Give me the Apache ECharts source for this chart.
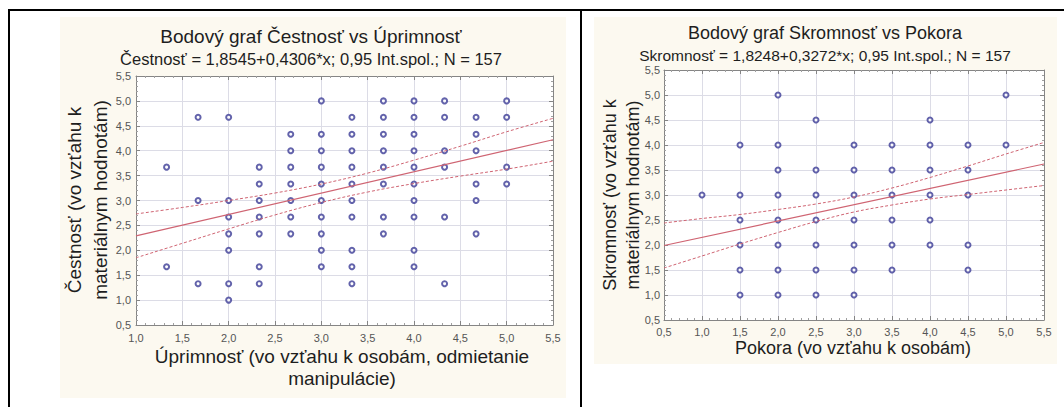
<!DOCTYPE html>
<html><head><meta charset="utf-8">
<script src="https://cdn.jsdelivr.net/npm/echarts@6/dist/echarts.min.js"></script>
<style>html,body{margin:0;padding:0;background:#fff;}#c{width:1064px;height:407px;}</style>
</head><body><div id="c"></div>
<script>
// ---- Left chart: Čestnosť vs Úprimnosť ----
const leftTitle = 'Bodový graf Čestnosť vs Úprimnosť';
const leftSubtitle = 'Čestnosť = 1,8545+0,4306*x; 0,95 Int.spol.; N = 157';
const leftXName = 'Úprimnosť (vo vzťahu k osobám, odmietanie\nmanipulácie)';
const leftYName = 'Čestnosť (vo vzťahu k\nmateriálnym hodnotám)';
const leftPoints = [
  [1.33,3.67],[1.33,1.67],
  [1.67,4.67],[1.67,3.0],[1.67,1.33],
  [2.0,4.67],[2.0,3.0],[2.0,2.67],[2.0,2.33],[2.0,2.0],[2.0,1.33],[2.0,1.0],
  [2.33,3.67],[2.33,3.33],[2.33,3.0],[2.33,2.67],[2.33,2.33],[2.33,1.67],[2.33,1.33],
  [2.67,4.33],[2.67,4.0],[2.67,3.67],[2.67,3.33],[2.67,3.0],[2.67,2.67],[2.67,2.33],
  [3.0,5.0],[3.0,4.33],[3.0,4.0],[3.0,3.67],[3.0,3.33],[3.0,3.0],[3.0,2.67],[3.0,2.33],[3.0,2.0],[3.0,1.67],
  [3.33,4.67],[3.33,4.33],[3.33,4.0],[3.33,3.67],[3.33,3.33],[3.33,3.0],[3.33,2.67],[3.33,2.0],[3.33,1.67],[3.33,1.33],
  [3.67,5.0],[3.67,4.67],[3.67,4.33],[3.67,4.0],[3.67,3.67],[3.67,3.33],[3.67,2.67],[3.67,2.33],
  [4.0,5.0],[4.0,4.67],[4.0,4.33],[4.0,4.0],[4.0,3.67],[4.0,3.33],[4.0,3.0],[4.0,2.67],[4.0,2.0],[4.0,1.67],
  [4.33,5.0],[4.33,4.67],[4.33,4.0],[4.33,3.67],[4.33,2.67],[4.33,1.33],
  [4.67,4.67],[4.67,4.33],[4.67,4.0],[4.67,3.33],[4.67,3.0],[4.67,2.33],
  [5.0,5.0],[5.0,4.67],[5.0,3.67],[5.0,3.33]
];
const leftFitX = [1.0, 5.5];
const leftFitY = [2.29, 4.22];
const leftBandX = [1.0, 1.5, 2.0, 2.5, 3.0, 3.5, 4.0, 4.5, 5.0, 5.5];
const leftUpper = [2.73, 2.86, 3.00, 3.15, 3.33, 3.55, 3.81, 4.09, 4.38, 4.65];
const leftLower = [1.85, 2.14, 2.43, 2.71, 2.96, 3.17, 3.34, 3.49, 3.63, 3.79];

// ---- Right chart: Skromnosť vs Pokora ----
const rightTitle = 'Bodový graf Skromnosť vs Pokora';
const rightSubtitle = 'Skromnosť = 1,8248+0,3272*x; 0,95 Int.spol.; N = 157';
const rightXName = 'Pokora (vo vzťahu k osobám)';
const rightYName = 'Skromnosť (vo vzťahu k\nmateriálnym hodnotám)';
const rightPoints = [
  [1.0,3.0],
  [1.5,4.0],[1.5,3.0],[1.5,2.5],[1.5,2.0],[1.5,1.5],[1.5,1.0],
  [2.0,5.0],[2.0,4.0],[2.0,3.5],[2.0,3.0],[2.0,2.5],[2.0,2.0],[2.0,1.5],[2.0,1.0],
  [2.5,4.5],[2.5,3.5],[2.5,3.0],[2.5,2.5],[2.5,2.0],[2.5,1.5],[2.5,1.0],
  [3.0,4.0],[3.0,3.5],[3.0,3.0],[3.0,2.5],[3.0,2.0],[3.0,1.5],[3.0,1.0],
  [3.5,4.0],[3.5,3.5],[3.5,3.0],[3.5,2.5],[3.5,2.0],[3.5,1.5],
  [4.0,4.5],[4.0,4.0],[4.0,3.5],[4.0,3.0],[4.0,2.5],[4.0,2.0],
  [4.5,4.0],[4.5,3.5],[4.5,3.0],[4.5,2.0],[4.5,1.5],
  [5.0,5.0],[5.0,4.0]
];
const rightFitX = [0.5, 5.5];
const rightFitY = [1.99, 3.62];
const rightBandX = [0.5, 1.0, 1.5, 2.0, 2.5, 3.0, 3.5, 4.0, 4.5, 5.0, 5.5];
const rightUpper = [2.44, 2.53, 2.61, 2.71, 2.82, 2.96, 3.14, 3.35, 3.58, 3.82, 4.05];
const rightLower = [1.54, 1.78, 2.02, 2.25, 2.47, 2.66, 2.80, 2.92, 3.01, 3.10, 3.19];

const FONT = '"Liberation Sans", Arial, sans-serif';
const fmt = v => v.toFixed(1).replace('.', ',');
const pairs = (xs, ys) => xs.map((x, i) => [x, ys[i]]);

const FRAME = '#858585';
const GRIDC = '#dcdce6';
const DOT = '#3c3c96';
const FIT = '#cf6472';

function mainAxis(gi, pos, min, max, margin) {
  return {
    gridIndex: gi, type: 'value', position: pos, min: min, max: max, interval: 0.5,
    axisLine: { show: true, onZero: false, lineStyle: { color: FRAME, width: 1 } },
    axisTick: { show: true, inside: true, length: 4, lineStyle: { color: FRAME } },
    minorTick: { show: true, splitNumber: 5, length: 2, lineStyle: { color: '#a0a0a0' } },
    axisLabel: { formatter: fmt, color: '#555', fontSize: 11, fontFamily: FONT, margin: margin },
    splitLine: { show: true, lineStyle: { color: GRIDC, width: 1 } },
    minorSplitLine: { show: false }
  };
}
function sideAxis(gi, pos, min, max) {
  return {
    gridIndex: gi, type: 'value', position: pos, min: min, max: max, interval: 0.5,
    axisLine: { show: true, onZero: false, lineStyle: { color: FRAME, width: 1 } },
    axisTick: { show: true, inside: true, length: 4, lineStyle: { color: FRAME } },
    minorTick: { show: true, splitNumber: 5, length: 2, lineStyle: { color: '#a0a0a0' } },
    axisLabel: { show: false },
    splitLine: { show: false }
  };
}
function scatter(xi, yi, data) {
  return { type: 'scatter', xAxisIndex: xi, yAxisIndex: yi, data: data, symbol: 'emptyCircle',
    symbolSize: 5, itemStyle: { color: DOT, borderWidth: 1.5 }, z: 2, silent: true };
}
function line(xi, yi, data, dashed) {
  return { type: 'line', xAxisIndex: xi, yAxisIndex: yi, data: data, showSymbol: false,
    smooth: dashed ? 0.4 : false, z: 3, silent: true,
    lineStyle: { color: FIT, width: dashed ? 1 : 1.2, type: dashed ? [3, 2] : 'solid' } };
}
function txt(x, y, text, size, opts) {
  return Object.assign({ type: 'text', x: x, y: y, silent: true, z: 10,
    style: { text: text, fontSize: size, fontFamily: FONT, fill: '#1e1e1e',
      align: 'center', verticalAlign: 'middle', lineHeight: (opts && opts.lh) || size + 4 } },
    opts && opts.rot ? { rotation: Math.PI / 2 } : {});
}

const chart = echarts.init(document.getElementById('c'), null, { renderer: 'svg' });
chart.setOption({
  animation: false,
  backgroundColor: '#ffffff',
  grid: [
    { left: 136, top: 76, width: 417, height: 249, show: true, backgroundColor: '#ffffff', borderWidth: 0 },
    { left: 664, top: 70, width: 380, height: 250, show: true, backgroundColor: '#ffffff', borderWidth: 0 }
  ],
  xAxis: [
    mainAxis(0, 'bottom', 1, 5.5, 7),
    sideAxis(0, 'top', 1, 5.5),
    mainAxis(1, 'bottom', 0.5, 5.5, 6),
    sideAxis(1, 'top', 0.5, 5.5)
  ],
  yAxis: [
    mainAxis(0, 'left', 0.5, 5.5, 5),
    sideAxis(0, 'right', 0.5, 5.5),
    mainAxis(1, 'left', 0.5, 5.5, 4),
    sideAxis(1, 'right', 0.5, 5.5)
  ],
  series: [
    scatter(0, 0, leftPoints),
    line(0, 0, pairs(leftFitX, leftFitY), false),
    line(0, 0, pairs(leftBandX, leftUpper), true),
    line(0, 0, pairs(leftBandX, leftLower), true),
    scatter(2, 2, rightPoints),
    line(2, 2, pairs(rightFitX, rightFitY), false),
    line(2, 2, pairs(rightBandX, rightUpper), true),
    line(2, 2, pairs(rightBandX, rightLower), true)
  ],
  graphic: [
    { type: 'rect', z: -100, silent: true, shape: { x: 60, y: 17, width: 506, height: 381 }, style: { fill: '#fcf9f0' } },
    { type: 'rect', z: -100, silent: true, shape: { x: 594, y: 17, width: 463, height: 347 }, style: { fill: '#fcf9f0' } },
    { type: 'rect', z: 20, silent: true, shape: { x: 8, y: 9, width: 1056, height: 2 }, style: { fill: '#000' } },
    { type: 'rect', z: 20, silent: true, shape: { x: 8, y: 9, width: 2, height: 398 }, style: { fill: '#000' } },
    { type: 'rect', z: 20, silent: true, shape: { x: 580, y: 9, width: 2, height: 398 }, style: { fill: '#000' } },
    txt(311, 36, leftTitle, 19),
    txt(311, 59, leftSubtitle, 16.5),
    txt(342, 367, leftXName, 19, { lh: 22 }),
    txt(87, 200, leftYName, 19, { rot: true, lh: 26 }),
    txt(825, 33, rightTitle, 18),
    txt(825, 55, rightSubtitle, 15.5),
    txt(853, 348, rightXName, 18),
    txt(621, 195, rightYName, 18, { rot: true, lh: 23 })
  ]
});
</script></body></html>
